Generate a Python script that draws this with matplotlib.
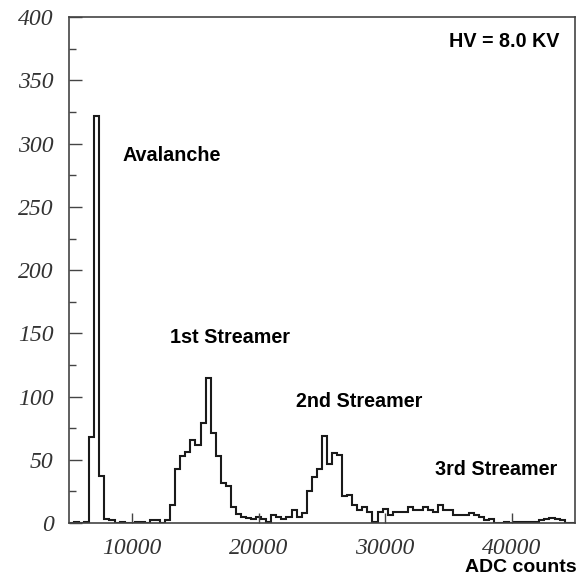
import matplotlib as mpl
import matplotlib.pyplot as plt
import numpy as np
from matplotlib.ticker import MultipleLocator

mpl.rcParams['figure.dpi'] = 100

# histogram: 100 bins, 5000 - 45000 ADC counts
adc_min = 5000
adc_max = 45000
counts = [0, 1, 0, 1, 68, 322, 37, 3, 2, 0,
          1, 0, 0, 1, 1, 0, 2, 2, 0, 2,
          14, 43, 53, 56, 66, 62, 79, 115, 71, 53,
          32, 29, 13, 7, 5, 4, 3, 5, 3, 1,
          6, 5, 3, 5, 10, 5, 8, 25, 36, 43,
          69, 47, 55, 54, 21, 22, 14, 10, 13, 9,
          1, 9, 11, 6, 9, 9, 9, 13, 10, 10,
          13, 10, 9, 14, 10, 10, 6, 6, 6, 8,
          6, 5, 2, 3, 0, 0, 1, 0, 1, 1,
          1, 1, 1, 2, 3, 4, 3, 2, 0, 0]
edges = np.linspace(adc_min, adc_max, len(counts) + 1)

labels = ["Avalanche", "1st Streamer", "2nd Streamer", "3rd Streamer"]
label_x = [9200, 13000, 22950, 33950]
label_y = [291, 147, 96, 42]

fig = plt.figure(figsize=(5.8, 5.76))
ax = fig.add_axes([0.119, 0.092, 0.872, 0.878])

ax.stairs(counts, edges, color="#1a1a1a", lw=1.5, baseline=0)

ax.set_xlim(adc_min, adc_max)
ax.set_ylim(0, 400)
ax.xaxis.set_major_locator(MultipleLocator(10000))
ax.yaxis.set_major_locator(MultipleLocator(50))
ax.yaxis.set_minor_locator(MultipleLocator(25))

for s in ax.spines.values():
    s.set_color("#444444")
    s.set_linewidth(1.2)

ax.tick_params(axis="y", which="major", direction="in", length=9, width=1, color="#444444")
ax.tick_params(axis="y", which="minor", direction="in", length=5, width=1, color="#444444")
ax.tick_params(axis="x", which="major", direction="in", length=7, width=1, color="#444444", pad=11)
ax.tick_params(axis="y", pad=11)

for lab in ax.get_xticklabels() + ax.get_yticklabels():
    lab.set_family("Liberation Serif")
    lab.set_style("italic")
    lab.set_fontsize(17)
    lab.set_color("#333333")

for t, x, y in zip(labels, label_x, label_y):
    ax.text(x, y, t, family="Liberation Sans", weight="bold", fontsize=14.2,
            ha="left", va="center")

ax.text(0.969, 0.952, "HV = 8.0 KV", transform=ax.transAxes, family="Liberation Sans",
        weight="bold", fontsize=14.2, ha="right", va="center")
# x title sits under the right end of the axis
fig.text(0.994, 1 - 568/576, "ADC counts", family="Liberation Sans", weight="bold",
         fontsize=14, ha="right", va="center")

fig.savefig("out.png")
